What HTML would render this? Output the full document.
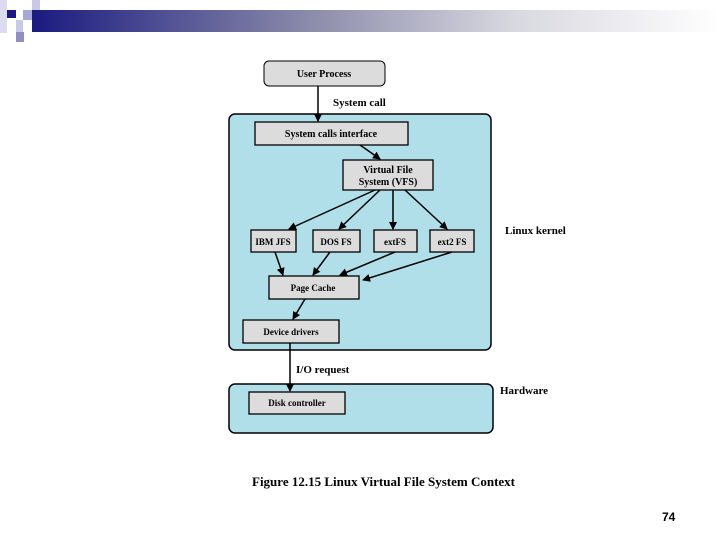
<!DOCTYPE html>
<html><head><meta charset="utf-8"><style>body{margin:0;background:#fff}svg{display:block}</style></head><body>
<svg width="720" height="540" viewBox="0 0 720 540" xmlns="http://www.w3.org/2000/svg" font-family="Liberation Serif, serif">
<defs>
<linearGradient id="g" x1="0" x2="1"><stop offset="0" stop-color="#1a1a80"/><stop offset="0.4" stop-color="#8a8aaa"/><stop offset="0.7" stop-color="#d8d8e0"/><stop offset="1" stop-color="#fff"/></linearGradient>
<marker id="a" markerWidth="8" markerHeight="8" refX="7" refY="4" orient="auto" markerUnits="userSpaceOnUse"><path d="M0,0 L8,4 L0,8z" fill="#000"/></marker>
</defs>
<rect x="32" y="10" width="688" height="22" fill="url(#g)"/>
<rect x="0" y="0" width="7" height="33" fill="#dcdcf0"/>
<rect x="7" y="10" width="9" height="8" fill="#1a1a80"/>
<rect x="23" y="10" width="9" height="10" fill="#a8a8d8"/>
<rect x="32" y="0" width="8" height="10" fill="#c8c8e8"/>
<rect x="16" y="20" width="7" height="12" fill="#c8c8e8"/>
<rect x="16" y="32" width="8" height="10" fill="#9090c0"/>
<rect x="229" y="114" width="262" height="236" rx="6" fill="#b0dfea" stroke="#000" stroke-width="1.5"/>
<rect x="229" y="384" width="264" height="49" rx="6" fill="#b0dfea" stroke="#000" stroke-width="1.5"/>
<rect x="264" y="61" width="121" height="25" rx="5" fill="#dcdcdc" stroke="#000"/>
<g fill="#dcdcdc" stroke="#000" stroke-width="1.3">
<rect x="255" y="122" width="153" height="23"/>
<rect x="343" y="160" width="90" height="30"/>
<rect x="251" y="230" width="45" height="22"/>
<rect x="313" y="230" width="47" height="22"/>
<rect x="374" y="230" width="43" height="22"/>
<rect x="430" y="230" width="44" height="22"/>
<rect x="269" y="276" width="90" height="23"/>
<rect x="243" y="320" width="96" height="23"/>
<rect x="249" y="392" width="96" height="22"/>
</g>
<g stroke="#000" stroke-width="1.5" marker-end="url(#a)">
<line x1="318" y1="86" x2="318" y2="121"/>
<line x1="360" y1="145" x2="380" y2="159"/>
<line x1="375" y1="190" x2="289" y2="229"/>
<line x1="380" y1="190" x2="339" y2="229"/>
<line x1="393" y1="190" x2="393" y2="229"/>
<line x1="405" y1="190" x2="447" y2="229"/>
<line x1="275" y1="252" x2="283" y2="275"/>
<line x1="330" y1="252" x2="313" y2="275"/>
<line x1="395" y1="252" x2="340" y2="275"/>
<line x1="452" y1="252" x2="363" y2="280"/>
<line x1="305" y1="299" x2="293" y2="319"/>
<line x1="290" y1="343" x2="290" y2="391"/>
</g>
<g font-weight="bold" font-size="10" text-anchor="middle">
<text x="324" y="77">User Process</text>
<text x="331" y="137">System calls interface</text>
<text x="388" y="173">Virtual File</text>
<text x="388" y="185">System (VFS)</text>
<text x="273" y="245" font-size="9">IBM JFS</text>
<text x="336" y="245" font-size="9">DOS FS</text>
<text x="395" y="245" font-size="9">extFS</text>
<text x="452" y="245" font-size="9">ext2 FS</text>
<text x="313" y="291" font-size="9">Page Cache</text>
<text x="291" y="335" font-size="9">Device drivers</text>
<text x="297" y="406" font-size="9">Disk controller</text>
</g>
<g font-size="11" font-weight="bold">
<text x="333" y="106">System call</text>
<text x="296" y="373">I/O request</text>
<text x="505" y="234">Linux kernel</text>
<text x="500" y="394">Hardware</text>
<text x="252" y="486" font-size="13">Figure 12.15  Linux Virtual File System Context</text>
</g>
<text x="662" y="521" font-family="Liberation Sans, sans-serif" font-weight="bold" font-size="12">74</text>
</svg>
</body></html>
